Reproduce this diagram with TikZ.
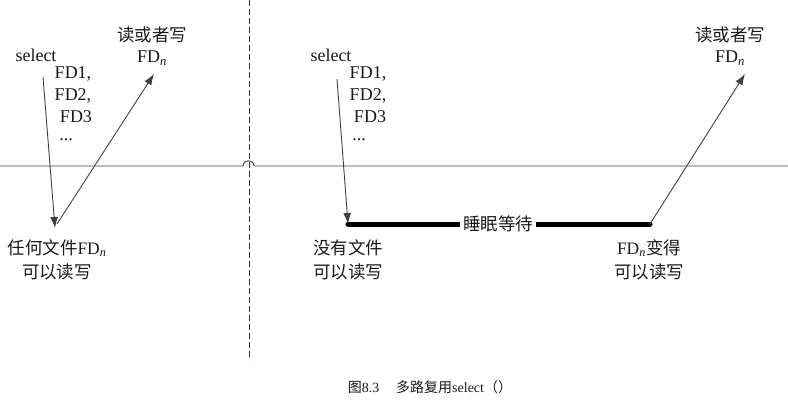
\documentclass[tikz,border=0pt]{standalone}
\usepackage{fontspec}
\setmainfont{Liberation Serif}
\newfontfamily\cjk{Noto Sans CJK SC}
\usetikzlibrary{arrows.meta}
\newcommand{\sbn}{\textsubscript{\textit{n}}}
\begin{document}
\begin{tikzpicture}[x=1pt,y=-1pt,
  lbl/.style={inner sep=0pt,font=\fontsize{18}{20}\selectfont,text=black!90,align=center},
  cj/.style={inner sep=0pt,font=\fontsize{17.5}{20}\selectfont,text=black!90,align=center},
  thin/.style={line width=0.9pt,draw=black!75},
  arr/.style={thin,-{Latex[length=11pt,width=8pt]}},
  bar/.style={line width=5pt,line cap=round,draw=black}]
\useasboundingbox (0,0) rectangle (788,407);
% axis line with hump
\coordinate (hl) at (0,166);
\coordinate (h1) at (243,166);
\coordinate (h2) at (254,166);
\coordinate (hr) at (788,166);
\draw[thin] (hl) -- (h1) .. controls (243,159) and (254,159) .. (h2) -- (hr);
% dashed divider
\coordinate (dt) at (249,0);
\coordinate (db) at (249,360);
\draw[line width=0.8pt,draw=black!80,dash pattern=on 6pt off 3pt] (dt) -- (db);

% left side
\node[lbl] (sel1) at (36,55) {select};
\node[lbl] (fa1) at (73,74) {FD1,};
\node[lbl] (fb1) at (73,96) {FD2,};
\node[lbl] (fc1) at (76,117) {FD3};
\node[lbl] (fd1) at (66,140) {...};
\node[cj] (rw1) at (152,35) {\cjk 读或者写};
\node[lbl] (fdn1) at (152,58) {FD\sbn};
\node[cj] (any) at (57,248) {{\cjk 任何文件}FD\sbn};
\node[cj] (can1) at (57,272) {\cjk 可以读写};
\coordinate (s1) at (43,77);
\coordinate (p1) at (55,228);
\coordinate (q1) at (57,224);
\coordinate (e1) at (154,74);
\draw[arr] (s1) -- (p1);
\draw[arr] (q1) -- (e1);

% right side
\node[lbl] (sel2) at (331,55) {select};
\node[lbl] (fa2) at (368,74) {FD1,};
\node[lbl] (fb2) at (368,96) {FD2,};
\node[lbl] (fc2) at (370,117) {FD3};
\node[lbl] (fd2) at (359,140) {...};
\node[cj] (rw2) at (730,35) {\cjk 读或者写};
\node[lbl] (fdn2) at (730,58) {FD\sbn};
\node[cj] (none) at (348,248) {\cjk 没有文件};
\node[cj] (can2) at (348,272) {\cjk 可以读写};
\node[cj] (bec) at (649,248) {FD\sbn{\cjk 变得}};
\node[cj] (can3) at (649,272) {\cjk 可以读写};
\coordinate (s2) at (337,79);
\coordinate (p2) at (348,224);
\coordinate (b1) at (348,224);
\coordinate (b2) at (650,224);
\coordinate (e2) at (745,74);
\draw[bar] (b1) -- (b2);
\node[cj,fill=white,inner xsep=3pt,inner ysep=2pt] (sleep) at (498,224) {\cjk 睡眠等待};
\draw[arr] (s2) -- (p2);
\draw[arr] (b2) -- (e2);

% caption
\node[inner sep=0pt,font=\fontsize{14}{16}\selectfont,text=black!90] (cap) at (430,387) {{\cjk 图}8.3\hspace{1.2em}{\cjk 多路复用}select{\cjk （）}};
\end{tikzpicture}
\end{document}
